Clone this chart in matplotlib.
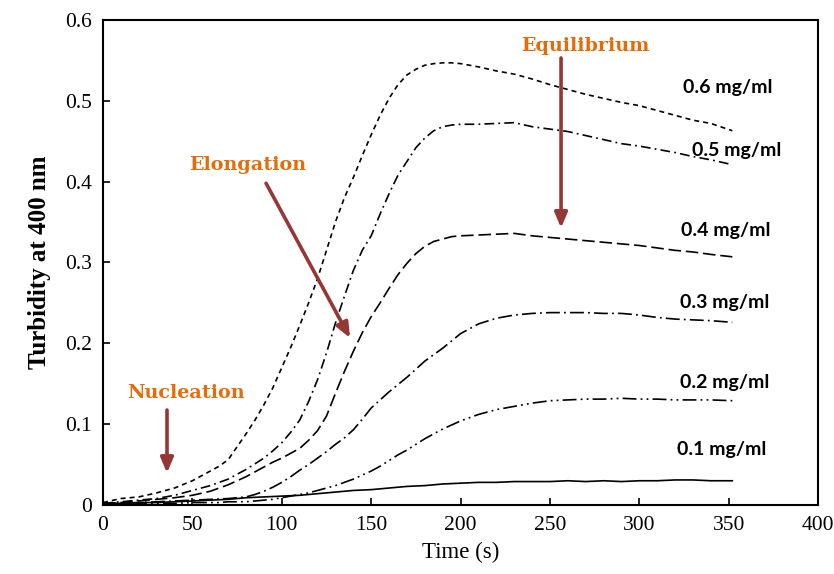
import matplotlib
matplotlib.use("Agg")
import matplotlib.pyplot as plt

time_s = [0, 10, 20, 30, 40, 50, 60, 65, 70, 75, 80, 85, 90, 95, 100, 105, 110, 115, 120, 125,
          130, 135, 140, 145, 150, 155, 160, 165, 170, 175, 180, 185, 190, 195, 200,
          210, 220, 230, 240, 250, 260, 270, 280, 290, 300, 310, 320, 330, 340, 352]

c06 = [0.003, 0.008, 0.010, 0.015, 0.021, 0.030, 0.042, 0.048, 0.056, 0.072, 0.088, 0.105, 0.124,
       0.145, 0.170, 0.195, 0.222, 0.250, 0.280, 0.315, 0.350, 0.380, 0.405, 0.432, 0.458, 0.482,
       0.503, 0.520, 0.532, 0.539, 0.544, 0.546, 0.547, 0.547, 0.546,
       0.542, 0.537, 0.533, 0.527, 0.520, 0.514, 0.508, 0.503, 0.498, 0.494, 0.488, 0.482, 0.476,
       0.472, 0.463]
c05 = [0.002, 0.004, 0.006, 0.008, 0.012, 0.018, 0.024, 0.028, 0.032, 0.038, 0.044, 0.051, 0.058,
       0.067, 0.077, 0.090, 0.105, 0.128, 0.155, 0.188, 0.225, 0.258, 0.290, 0.315, 0.333, 0.360,
       0.385, 0.408, 0.425, 0.442, 0.454, 0.463, 0.468, 0.470, 0.471,
       0.471, 0.472, 0.473, 0.468, 0.465, 0.462, 0.457, 0.452, 0.447, 0.444, 0.440, 0.436, 0.431,
       0.427, 0.421]
c04 = [0.002, 0.003, 0.005, 0.007, 0.009, 0.012, 0.017, 0.021, 0.025, 0.030, 0.035, 0.041, 0.047,
       0.053, 0.058, 0.064, 0.070, 0.080, 0.092, 0.110, 0.138, 0.165, 0.190, 0.213, 0.233, 0.250,
       0.268, 0.285, 0.299, 0.311, 0.320, 0.326, 0.329, 0.332, 0.333,
       0.334, 0.335, 0.336, 0.333, 0.331, 0.329, 0.327, 0.325, 0.323, 0.321, 0.318, 0.315, 0.313,
       0.310, 0.307]
c03 = [0.001, 0.002, 0.003, 0.004, 0.005, 0.006, 0.007, 0.0075, 0.008, 0.009, 0.010, 0.013, 0.017,
       0.022, 0.028, 0.035, 0.043, 0.050, 0.058, 0.066, 0.075, 0.083, 0.093, 0.106, 0.120, 0.130,
       0.140, 0.149, 0.158, 0.168, 0.178, 0.186, 0.194, 0.203, 0.212,
       0.224, 0.231, 0.235, 0.237, 0.238, 0.238, 0.238, 0.237, 0.237, 0.235, 0.232, 0.230, 0.229,
       0.228, 0.226]
c02 = [0.001, 0.001, 0.002, 0.002, 0.002, 0.003, 0.003, 0.003, 0.004, 0.004, 0.004, 0.005, 0.006,
       0.007, 0.009, 0.011, 0.013, 0.015, 0.018, 0.021, 0.024, 0.028, 0.032, 0.037, 0.042, 0.048,
       0.055, 0.062, 0.068, 0.075, 0.082, 0.088, 0.094, 0.099, 0.104,
       0.112, 0.118, 0.122, 0.126, 0.129, 0.130, 0.131, 0.131, 0.132, 0.131, 0.131, 0.130, 0.130,
       0.130, 0.129]
c01 = [0.002, 0.002, 0.003, 0.003, 0.004, 0.005, 0.006, 0.0065, 0.007, 0.008, 0.009, 0.0095, 0.010,
       0.0105, 0.011, 0.0115, 0.012, 0.013, 0.014, 0.015, 0.016, 0.017, 0.018, 0.0185, 0.019, 0.020,
       0.021, 0.022, 0.023, 0.0235, 0.024, 0.025, 0.026, 0.0265, 0.027,
       0.028, 0.028, 0.029, 0.029, 0.029, 0.030, 0.029, 0.030, 0.029, 0.030, 0.030, 0.031, 0.031,
       0.030, 0.030]

series_labels = ["0.6 mg/ml", "0.5 mg/ml", "0.4 mg/ml", "0.3 mg/ml", "0.2 mg/ml", "0.1 mg/ml"]
label_pos = [(324.5, 0.517), (329.5, 0.439), (323.4, 0.340), (322.8, 0.250), (322.8, 0.152), (321.1, 0.069)]

xticks = [0, 50, 100, 150, 200, 250, 300, 350, 400]
yticks = [0, 0.1, 0.2, 0.3, 0.4, 0.5, 0.6]
ytick_labels = ["0", "0.1", "0.2", "0.3", "0.4", "0.5", "0.6"]

plt.rcParams['lines.scale_dashes'] = False
fig = plt.figure(figsize=(8.34, 5.74), dpi=100)
ax = fig.add_axes([0.1235, 0.1202, 0.981 - 0.1235, 0.9652 - 0.1202])

styles = [(0, (3.6, 2.9)), (0, (7, 3, 1.3, 3)), (0, (9, 3.5)), (0, (10, 3, 1.3, 3)),
          (0, (10, 3, 1.3, 3, 1.3, 3)), '-']
for data, ls in zip([c06, c05, c04, c03, c02, c01], styles):
    ax.plot(time_s, data, color='black', lw=1.2, linestyle=ls)

for lab, (x, y) in zip(series_labels, label_pos):
    ax.text(x, y, lab, family='Lato', fontweight='bold', fontsize=14, ha='left', va='center')

orange = '#E46C0A'
arrow_c = '#953735'
ann_font = dict(family='DejaVu Serif', fontweight='bold', fontsize=13.8, color=orange, ha='center', va='center')
ax.text(46.4, 0.1386, "Nucleation", **ann_font)
ax.text(81.1, 0.4206, "Elongation", **ann_font)
ax.text(269.6, 0.568, "Equilibrium", **ann_font)
arr = dict(arrowstyle='-|>,head_width=0.38,head_length=0.9', color=arrow_c, lw=2.6, shrinkA=0, shrinkB=0)
ax.annotate("", xy=(35.8, 0.0396), xytext=(35.8, 0.1175), arrowprops=arr)
ax.annotate("", xy=(138.2, 0.2066), xytext=(91.2, 0.398), arrowprops=arr)
ax.annotate("", xy=(256.2, 0.3427), xytext=(256.2, 0.553), arrowprops=arr)

ax.set_xlim(0, 400)
ax.set_ylim(0, 0.6)
ax.set_xticks(xticks)
ax.set_yticks(yticks)
ax.set_yticklabels(ytick_labels)
ax.tick_params(direction='in', length=5, width=1.2, labelsize=15.5, pad=8)
for lab in ax.get_xticklabels() + ax.get_yticklabels():
    lab.set_family('Liberation Serif')
for s in ax.spines.values():
    s.set_linewidth(1.5)
ax.set_xlabel("Time (s)", family='Liberation Serif', fontsize=16.5, labelpad=5)
ax.set_ylabel("Turbidity at 400 nm", family='Liberation Serif', fontweight='bold', fontsize=18, labelpad=10)

fig.savefig("out.png", dpi=100)
